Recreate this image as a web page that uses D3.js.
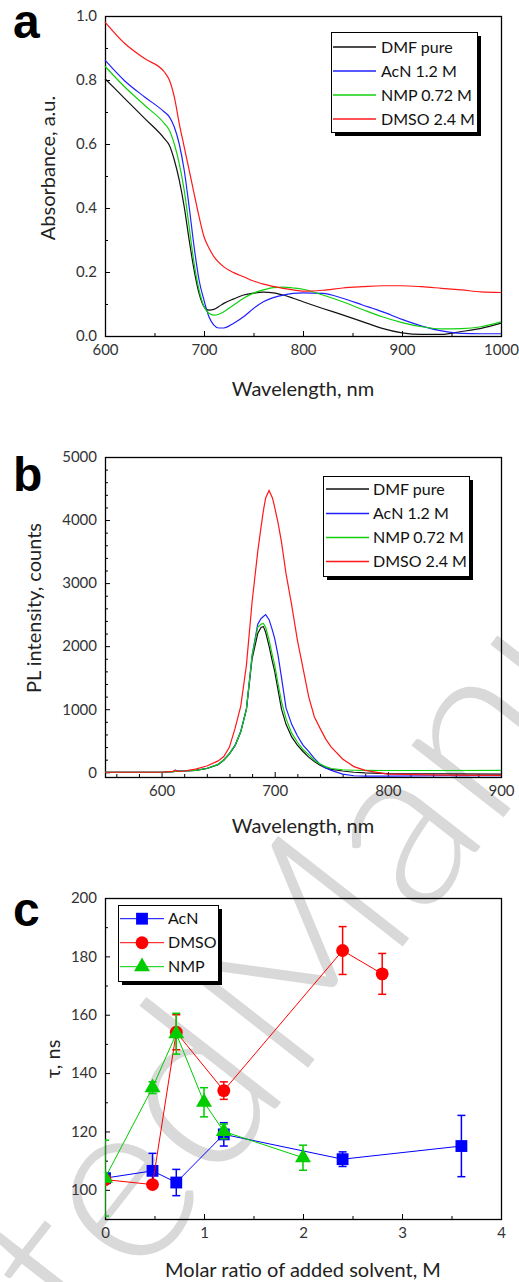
<!DOCTYPE html>
<meta charset="utf-8">
<script src="https://d3js.org/d3.v7.min.js"></script>
<style>body{margin:0;background:#fff}</style>
<div id="divsvg"></div>
<script>

// ---- panel a : absorbance spectra
var wlA = [600, 620, 640, 660, 665, 670, 675, 680, 685, 690, 695, 700, 705, 710, 715, 720, 730, 740, 750, 760, 770, 780, 790, 800, 820, 840, 860, 880, 900, 920, 940, 960, 980, 1000];
var absDMF  = [0.804, 0.742, 0.680, 0.617, 0.596, 0.550, 0.487, 0.404, 0.300, 0.206, 0.133, 0.092, 0.081, 0.083, 0.092, 0.102, 0.116, 0.128, 0.134, 0.137, 0.135, 0.128, 0.118, 0.107, 0.086, 0.066, 0.045, 0.024, 0.010, 0.005, 0.005, 0.014, 0.024, 0.040];
var absAcN  = [0.862, 0.797, 0.747, 0.700, 0.685, 0.653, 0.600, 0.518, 0.404, 0.279, 0.175, 0.112, 0.060, 0.034, 0.025, 0.025, 0.040, 0.060, 0.086, 0.107, 0.120, 0.128, 0.133, 0.135, 0.133, 0.118, 0.097, 0.076, 0.052, 0.031, 0.016, 0.008, 0.007, 0.007];
var absNMP  = [0.843, 0.778, 0.721, 0.664, 0.643, 0.600, 0.539, 0.456, 0.341, 0.227, 0.144, 0.092, 0.071, 0.065, 0.068, 0.076, 0.097, 0.118, 0.134, 0.144, 0.151, 0.153, 0.150, 0.146, 0.128, 0.107, 0.083, 0.060, 0.042, 0.029, 0.022, 0.023, 0.029, 0.044];
var absDMSO = [0.981, 0.914, 0.867, 0.825, 0.800, 0.747, 0.664, 0.591, 0.518, 0.445, 0.373, 0.310, 0.275, 0.248, 0.230, 0.216, 0.198, 0.185, 0.172, 0.162, 0.155, 0.149, 0.144, 0.140, 0.143, 0.150, 0.154, 0.157, 0.157, 0.154, 0.149, 0.144, 0.138, 0.136];

// ---- panel b : PL spectra
var wlB = [550, 600, 610, 612, 615, 620, 630, 640, 650, 655, 660, 665, 670, 675, 680, 685, 688, 690, 692, 695, 698, 700, 703, 706, 710, 715, 720, 725, 730, 735, 740, 745, 750, 760, 770, 780, 800, 850, 900];
var plDMF  = [0, 0, 10, 15, 15, 20, 30, 60, 120, 190, 290, 420, 640, 1000, 1800, 2200, 2300, 2310, 2220, 2000, 1750, 1600, 1300, 1000, 760, 560, 430, 330, 240, 170, 110, 70, 45, 20, 0, -10, -20, -25, -30];
var plAcN  = [0, 0, 10, 35, 20, 20, 30, 60, 125, 200, 300, 430, 650, 1000, 1850, 2350, 2440, 2470, 2500, 2420, 2250, 2120, 1850, 1500, 1020, 760, 580, 430, 330, 220, 130, 70, 30, -30, -55, -60, -60, -55, -55];
var plNMP  = [0, 0, 10, 15, 15, 20, 30, 60, 125, 195, 295, 425, 645, 1000, 1850, 2300, 2350, 2360, 2300, 2100, 1850, 1700, 1400, 1120, 850, 620, 480, 360, 280, 190, 130, 90, 60, 40, 32, 30, 28, 28, 30];
var plDMSO = [0, 0, 15, 30, 15, 20, 50, 100, 180, 250, 400, 700, 1050, 1700, 2700, 3500, 3900, 4150, 4350, 4470, 4350, 4200, 3950, 3650, 3150, 2650, 2100, 1650, 1200, 880, 700, 530, 400, 210, 90, 30, -30, -45, -50];

// ---- panel c : lifetimes
var molAcN  = [0, 0.48, 0.72, 1.2, 2.4, 3.6];
var tauAcN  = [104, 106.5, 102.5, 119, 110.5, 115];
var errAcN  = [0, 6, 4.5, 4, 2.5, 10.5];
var molDMSO = [0, 0.48, 0.72, 1.2, 2.4, 2.8];
var tauDMSO = [103.5, 101.8, 154, 134, 182, 174];
var errDMSO = [0, 0, 6, 3, 8.2, 7];
var molNMP  = [0, 0.48, 0.72, 1.0, 1.2, 2.0];
var tauNMP  = [104, 135, 153.5, 130, 120, 111];
var errNMP  = [13, 2, 7, 5, 2.5, 4.3];

var labelsAB = ["DMF pure", "AcN 1.2 M", "NMP 0.72 M", "DMSO 2.4 M"];
var labelsC = ["AcN", "DMSO", "NMP"];
var colorsAB = ["#111111", "#2020ff", "#10d010", "#ff1818"];

var font = "Lato, 'Open Sans', sans-serif";
var x0 = 105, x1 = 501;

var svg = d3.select("#divsvg")
  .append("svg")
    .attr("width", 519)
    .attr("height", 1282);

// watermark behind everything
var wm = svg.append("g")
  .attr("transform", "translate(293,1087) rotate(-52)")
  .style("font-family", font)
  .style("font-weight", 300)
  .style("font-size", "235px")
  .attr("fill", "#d9d9d9");
wm.append("text").attr("text-anchor", "end").text("Accepted ");
wm.append("text").attr("text-anchor", "start").text("Manuscript");

function frame(x, y, xMaj, xMin, yMaj, yMin, fx, fy) {
  var g = svg.append("g");
  var yb = y.range()[0], yt = y.range()[1];
  g.append("g")
    .attr("transform", "translate(0," + yb + ")")
    .call(d3.axisBottom(x).tickValues(xMin).tickSizeInner(-3).tickSizeOuter(0).tickFormat(""));
  g.append("g")
    .attr("transform", "translate(0," + yb + ")")
    .call(d3.axisBottom(x).tickValues(xMaj).tickSizeInner(-5).tickSizeOuter(0).tickPadding(8).tickFormat(fx));
  g.append("g")
    .attr("transform", "translate(" + x0 + ",0)")
    .call(d3.axisLeft(y).tickValues(yMin).tickSizeInner(-3).tickSizeOuter(0).tickFormat(""));
  g.append("g")
    .attr("transform", "translate(" + x0 + ",0)")
    .call(d3.axisLeft(y).tickValues(yMaj).tickSizeInner(-5).tickSizeOuter(0).tickPadding(8).tickFormat(fy));
  g.selectAll(".domain").remove();
  g.selectAll(".tick line").attr("stroke", "#000");
  g.selectAll(".tick text")
    .style("font-family", font)
    .style("font-size", "15px")
    .attr("fill", "#333");
  g.append("rect")
    .attr("x", x0 + 0.5).attr("y", yt + 0.5)
    .attr("width", x1 - x0).attr("height", yb - yt)
    .attr("fill", "none").attr("stroke", "#000").attr("stroke-width", 1.3);
}

function titles(letter, ly, xt, xty, yt, ytx, yty) {
  svg.append("text").attr("x", 13).attr("y", ly)
    .style("font-family", "'Liberation Sans', Arial, sans-serif")
    .style("font-weight", "bold").style("font-size", "48px")
    .text(letter);
  svg.append("text").attr("x", (x0 + x1) / 2).attr("y", xty)
    .attr("text-anchor", "middle")
    .style("font-family", font).style("font-size", "20px").attr("fill", "#222")
    .text(xt);
  svg.append("text")
    .attr("transform", "translate(" + ytx + "," + yty + ") rotate(-90)")
    .attr("text-anchor", "middle")
    .style("font-family", font).style("font-size", "20px").attr("fill", "#222")
    .text(yt);
}

function legendBox(bx, by, bw, bh) {
  svg.append("rect").attr("x", bx + 4).attr("y", by + 4).attr("width", bw).attr("height", bh).attr("fill", "#000");
  svg.append("rect").attr("x", bx + 0.5).attr("y", by + 0.5).attr("width", bw).attr("height", bh)
    .attr("fill", "#fff").attr("stroke", "#000").attr("stroke-width", 1);
}

function legendAB(bx, by, rows, lx0, lx1, tx) {
  legendBox(bx, by, 146, 100);
  labelsAB.forEach(function(l, i) {
    svg.append("line").attr("x1", lx0).attr("x2", lx1).attr("y1", rows[i]).attr("y2", rows[i])
      .attr("stroke", colorsAB[i]).attr("stroke-width", 1.3);
    svg.append("text").attr("x", tx).attr("y", rows[i] + 5.5)
      .style("font-family", font).style("font-size", "16px").attr("fill", "#111")
      .text(l);
  });
}

// ---------- panel a
var xa = d3.scaleLinear().domain([600, 1000]).range([x0, x1]);
var ya = d3.scaleLinear().domain([0, 1]).range([336, 16]);
frame(xa, ya, [600, 700, 800, 900, 1000], [650, 750, 850, 950],
  [0, 0.2, 0.4, 0.6, 0.8, 1.0], [0.1, 0.3, 0.5, 0.7, 0.9], d3.format("d"), d3.format(".1f"));
var lineA = d3.line().curve(d3.curveMonotoneX)
  .x(function(d) { return xa(d[0]); }).y(function(d) { return ya(d[1]); });
[absDMF, absAcN, absNMP, absDMSO].forEach(function(s, i) {
  svg.append("path").datum(wlA.map(function(w, j) { return [w, s[j]]; }))
    .attr("d", lineA).attr("fill", "none").attr("stroke", colorsAB[i]).attr("stroke-width", 1.2);
});
legendAB(331, 32, [47, 71, 95, 119], 333, 376, 381);
titles("a", 38, "Wavelength, nm", 396, "Absorbance, a.u.", 55, 168);

// ---------- panel b
var xb = d3.scaleLinear().domain([550, 900]).range([x0, x1]);
var yb = d3.scaleLinear().domain([-75, 5000]).range([777, 457]);
frame(xb, yb, [600, 700, 800, 900], d3.range(560, 900, 20).filter(function(v) { return v % 100; }),
  d3.range(0, 5001, 1000), d3.range(200, 5000, 200).filter(function(v) { return v % 1000; }),
  d3.format("d"), d3.format("d"));
svg.append("clipPath").attr("id", "clipb").append("rect").attr("x", x0).attr("y", 457).attr("width", x1 - x0).attr("height", 320);
var lineB = d3.line()
  .x(function(d) { return xb(d[0]); }).y(function(d) { return yb(d[1]); });
[plDMF, plAcN, plNMP, plDMSO].forEach(function(s, i) {
  svg.append("path").datum(wlB.map(function(w, j) { return [w, s[j]]; }))
    .attr("clip-path", "url(#clipb)")
    .attr("d", lineB).attr("fill", "none").attr("stroke", colorsAB[i]).attr("stroke-width", 1.2);
});
legendAB(323, 476, [489, 513.5, 537.5, 561.5], 326, 369, 373);
titles("b", 491, "Wavelength, nm", 833, "PL intensity, counts", 41, 608);

// ---------- panel c
var xc = d3.scaleLinear().domain([0, 4]).range([x0, x1]);
var yc = d3.scaleLinear().domain([90, 200]).range([1219, 898]);
frame(xc, yc, [0, 1, 2, 3, 4], [0.5, 1.5, 2.5, 3.5],
  d3.range(100, 201, 20), d3.range(110, 200, 20), d3.format("d"), d3.format("d"));
svg.append("clipPath").attr("id", "clipc").append("rect").attr("x", x0).attr("y", 898).attr("width", x1 - x0).attr("height", 321);

var seriesC = [
  {mol: molAcN, tau: tauAcN, err: errAcN, color: "#0000ff", sym: d3.symbolSquare, size: 140},
  {mol: molDMSO, tau: tauDMSO, err: errDMSO, color: "#ff0000", sym: d3.symbolCircle, size: 130},
  {mol: molNMP, tau: tauNMP, err: errNMP, color: "#00cc00", sym: d3.symbolTriangle, size: 110}
];
var lineC = d3.line().x(function(d) { return xc(d[0]); }).y(function(d) { return yc(d[1]); });
seriesC.forEach(function(s) {
  var g = svg.append("g").attr("clip-path", "url(#clipc)");
  var pts = s.mol.map(function(m, j) { return [m, s.tau[j], s.err[j]]; });
  g.append("path").datum(pts).attr("d", lineC).attr("fill", "none").attr("stroke", s.color).attr("stroke-width", 1);
  pts.forEach(function(p) {
    if (p[2] > 0) {
      var cx = xc(p[0]), ylo = yc(p[1] - p[2]), yhi = yc(p[1] + p[2]);
      g.append("line").attr("x1", cx).attr("x2", cx).attr("y1", ylo).attr("y2", yhi).attr("stroke", s.color).attr("stroke-width", 1.5);
      g.append("line").attr("x1", cx - 4).attr("x2", cx + 4).attr("y1", ylo).attr("y2", ylo).attr("stroke", s.color).attr("stroke-width", 1.5);
      g.append("line").attr("x1", cx - 4).attr("x2", cx + 4).attr("y1", yhi).attr("y2", yhi).attr("stroke", s.color).attr("stroke-width", 1.5);
    }
  });
  g.selectAll(null).data(pts).enter().append("path")
    .attr("d", d3.symbol().type(s.sym).size(s.size))
    .attr("transform", function(p) { return "translate(" + xc(p[0]) + "," + yc(p[1]) + ")"; })
    .attr("fill", s.color);
});

legendBox(118, 905, 100, 76);
[918.7, 942.7, 966.7].forEach(function(ry, i) {
  var s = seriesC[i];
  svg.append("line").attr("x1", 120).attr("x2", 164).attr("y1", ry).attr("y2", ry).attr("stroke", s.color).attr("stroke-width", 1);
  svg.append("path").attr("d", d3.symbol().type(s.sym).size(s.size))
    .attr("transform", "translate(142," + ry + ")").attr("fill", s.color);
  svg.append("text").attr("x", 168).attr("y", ry + 5.5)
    .style("font-family", font).style("font-size", "16px").attr("fill", "#111")
    .text(labelsC[i]);
});
titles("c", 926, "Molar ratio of added solvent, M", 1277, "\u03c4, ns", 60, 1059);

</script>
